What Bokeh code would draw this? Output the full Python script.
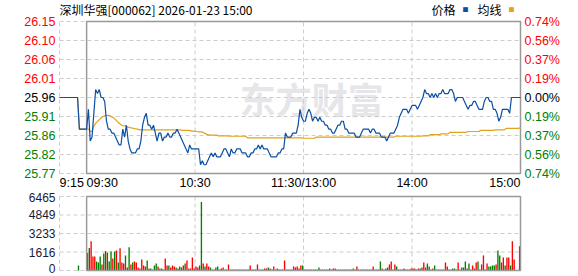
from bokeh.plotting import figure
from bokeh.models import ColumnDataSource, Range1d
from bokeh.layouts import column
from bokeh.embed import file_html
from bokeh.resources import INLINE
from bokeh.core.properties import value

# ---------------- data ----------------
title_text = "深圳华强[000062] 2026-01-23 15:00"
pre_close = 25.96
max_pct = 0.74

price_tick_labels = ["25.77", "25.82", "25.86", "25.91", "25.96", "26.01", "26.06", "26.10", "26.15"]
pct_tick_labels = ["0.74%", "0.56%", "0.37%", "0.19%", "0.00%", "0.19%", "0.37%", "0.56%", "0.74%"]
time_ticks = [-15, 0, 60, 120, 180, 240]
time_labels = ["9:15", "09:30", "10:30", "11:30/13:00", "14:00", "15:00"]
vgrid_ticks = [-15, 60, 120, 180]
vol_ticks = [0, 1616, 3233, 4849, 6465]
vol_tick_labels = ["0", "1616", "3233", "4849", "6465"]
legend_labels = ["价格", "均线"]

# pre-market auction 9:15 - 9:29 (minutes relative to 9:30)
pre_minutes = [-15, -14, -13, -12, -11, -10, -9, -8, -7, -6, -5, -4, -3, -2, -1]
pre_price = [25.96, 25.96, 25.96, 25.96, 25.96, 25.96, 25.96, 25.96, 25.96, 25.96, 25.96,
             25.88, 25.88, 25.88, 25.88]
pre_avg = [25.96, 25.96, 25.96, 25.96, 25.96, 25.96, 25.96, 25.96, 25.96, 25.96, 25.96,
           25.88, 25.88, 25.88, 25.88]
pre_vol = [0, 0, 0, 0, 0, 0, 0, 0, 0, 0, 0, 440, 0, 0, 0]
pre_dir = ["ddddddddddddddd"]

# 9:30 .. 15:00, one value per minute (241)
price = [
    25.88, 25.93, 25.85, 25.86, 25.92, 25.98, 25.97, 25.98, 25.96, 25.96,
    25.95, 25.90, 25.88, 25.88, 25.87, 25.87, 25.86, 25.85, 25.84, 25.84,
    25.88, 25.86, 25.89, 25.85, 25.83, 25.82, 25.82, 25.82, 25.83, 25.83,
    25.85, 25.89, 25.91, 25.92, 25.89, 25.89, 25.88, 25.89, 25.87, 25.85,
    25.87, 25.87, 25.85, 25.86, 25.86, 25.87, 25.86, 25.86, 25.87, 25.87,
    25.88, 25.87, 25.86, 25.85, 25.84, 25.83, 25.82, 25.84, 25.83, 25.83,
    25.83, 25.83, 25.83, 25.79, 25.80, 25.79, 25.79, 25.80, 25.81, 25.82,
    25.81, 25.82, 25.81, 25.81, 25.81, 25.82, 25.83, 25.83, 25.82, 25.81,
    25.83, 25.82, 25.82, 25.83, 25.83, 25.83, 25.82, 25.82, 25.82, 25.81,
    25.81, 25.82, 25.82, 25.83, 25.83, 25.84, 25.83, 25.84, 25.83, 25.83,
    25.83, 25.82, 25.81, 25.81, 25.81, 25.81, 25.82, 25.82, 25.83, 25.83,
    25.87, 25.86, 25.86, 25.86, 25.87, 25.87, 25.87, 25.89, 25.93, 25.91,
    25.90, 25.90, 25.92, 25.93, 25.92, 25.90, 25.91, 25.91, 25.90, 25.91,
    25.90, 25.90, 25.89, 25.89, 25.88, 25.88, 25.87, 25.87, 25.88, 25.89,
    25.89, 25.90, 25.90, 25.88, 25.88, 25.87, 25.87, 25.87, 25.87, 25.86,
    25.86, 25.86, 25.87, 25.88, 25.88, 25.88, 25.88, 25.87, 25.88, 25.88,
    25.87, 25.87, 25.87, 25.86, 25.86, 25.86, 25.85, 25.86, 25.87, 25.87,
    25.87, 25.88, 25.89, 25.91, 25.92, 25.93, 25.93, 25.93, 25.92, 25.93,
    25.94, 25.94, 25.94, 25.93, 25.94, 25.95, 25.96, 25.98, 25.97, 25.97,
    25.96, 25.97, 25.96, 25.97, 25.96, 25.97, 25.97, 25.98, 25.97, 25.97,
    25.97, 25.98, 25.98, 25.97, 25.95, 25.96, 25.96, 25.96, 25.96, 25.95,
    25.94, 25.93, 25.94, 25.94, 25.95, 25.95, 25.94, 25.93, 25.93, 25.93,
    25.95, 25.96, 25.96, 25.95, 25.95, 25.93, 25.93, 25.92, 25.90, 25.91,
    25.93, 25.93, 25.93, 25.93, 25.92, 25.96, 25.96, 25.96, 25.96, 25.96,
    25.96,
]

avg_price = [
    25.880, 25.880, 25.875, 25.874, 25.887, 25.895, 25.899, 25.904, 25.908, 25.912,
    25.914, 25.915, 25.915, 25.914, 25.911, 25.908, 25.904, 25.899, 25.895, 25.891,
    25.889, 25.888, 25.887, 25.885, 25.884, 25.883, 25.882, 25.881, 25.880, 25.879,
    25.878, 25.878, 25.878, 25.878, 25.878, 25.878, 25.878, 25.878, 25.878, 25.878,
    25.878, 25.878, 25.878, 25.878, 25.878, 25.878, 25.878, 25.878, 25.878, 25.878,
    25.878, 25.878, 25.878, 25.877, 25.877, 25.877, 25.877, 25.877, 25.875, 25.875,
    25.875, 25.874, 25.873, 25.873, 25.873, 25.870, 25.868, 25.866, 25.865, 25.865,
    25.865, 25.865, 25.865, 25.863, 25.863, 25.863, 25.863, 25.863, 25.863, 25.862,
    25.862, 25.862, 25.862, 25.862, 25.862, 25.862, 25.862, 25.862, 25.862, 25.858,
    25.858, 25.858, 25.858, 25.858, 25.858, 25.858, 25.858, 25.858, 25.858, 25.858,
    25.858, 25.858, 25.858, 25.858, 25.858, 25.858, 25.858, 25.858, 25.858, 25.858,
    25.858, 25.858, 25.858, 25.858, 25.858, 25.858, 25.858, 25.858, 25.858, 25.858,
    25.857, 25.857, 25.857, 25.857, 25.857, 25.857, 25.857, 25.860, 25.860, 25.860,
    25.860, 25.860, 25.860, 25.860, 25.860, 25.860, 25.860, 25.860, 25.860, 25.860,
    25.860, 25.860, 25.860, 25.860, 25.860, 25.860, 25.860, 25.860, 25.860, 25.860,
    25.860, 25.860, 25.860, 25.860, 25.860, 25.860, 25.860, 25.860, 25.860, 25.860,
    25.860, 25.860, 25.860, 25.860, 25.860, 25.860, 25.860, 25.860, 25.860, 25.860,
    25.860, 25.862, 25.862, 25.862, 25.862, 25.862, 25.862, 25.862, 25.862, 25.862,
    25.862, 25.862, 25.862, 25.862, 25.862, 25.862, 25.863, 25.863, 25.863, 25.863,
    25.866, 25.866, 25.866, 25.866, 25.866, 25.866, 25.868, 25.868, 25.868, 25.868,
    25.868, 25.872, 25.872, 25.872, 25.872, 25.872, 25.872, 25.872, 25.872, 25.872,
    25.872, 25.874, 25.874, 25.874, 25.874, 25.874, 25.874, 25.874, 25.877, 25.877,
    25.877, 25.877, 25.877, 25.877, 25.877, 25.877, 25.878, 25.878, 25.878, 25.878,
    25.878, 25.878, 25.882, 25.882, 25.882, 25.882, 25.882, 25.882, 25.882, 25.882,
    25.884,
]

volume = [
    0, 1524, 1963, 2549, 1230, 1230, 791, 703, 1230, 527,
    1494, 1700, 1582, 791, 1670, 1055, 1670, 1758, 703, 1934,
    703, 615, 1318, 264, 2022, 527, 703, 791, 703, 264,
    176, 967, 440, 352, 879, 176, 176, 88, 440, 615,
    352, 176, 176, 88, 1055, 440, 440, 264, 440, 352,
    264, 176, 352, 264, 440, 615, 879, 176, 176, 1143,
    176, 352, 264, 440, 5977, 615, 352, 615, 352, 264,
    88, 88, 264, 352, 88, 176, 264, 88, 88, 527,
    88, 88, 88, 88, 88, 88, 88, 88, 88, 88,
    88, 440, 88, 88, 88, 527, 88, 88, 88, 176,
    176, 264, 176, 88, 352, 88, 176, 88, 88, 88,
    879, 88, 88, 88, 88, 352, 264, 352, 176, 440,
    440, 88, 88, 88, 88, 88, 88, 88, 88, 264,
    88, 88, 88, 88, 88, 176, 88, 176, 176, 88,
    88, 88, 88, 88, 88, 88, 88, 88, 176, 88,
    352, 88, 88, 88, 88, 88, 88, 88, 88, 352,
    88, 88, 88, 791, 176, 88, 176, 264, 527, 791,
    88, 527, 352, 88, 88, 88, 176, 88, 88, 88,
    176, 176, 176, 88, 176, 176, 264, 703, 264, 615,
    352, 88, 176, 440, 88, 88, 88, 88, 88, 703,
    352, 88, 88, 176, 176, 88, 703, 88, 264, 264,
    791, 176, 615, 88, 440, 176, 703, 791, 88, 527,
    1318, 88, 615, 352, 352, 440, 440, 527, 1758, 1318,
    703, 1143, 440, 1143, 1143, 440, 2549, 967, 0, 0,
    2110,
]

# trade direction per minute: u = up (red bar), d = down (green bar)
vol_dir = [
    "uuduuudddu", "dduddududu", "uudududuuu", "uuuudududd", "uddduuduuu",
    "dudduduuuu", "uuudduduud", "uudduuuuuu", "duudduduud", "uuduuuuduu",
    "ududuuudud", "uuuduuuuuu", "duududuuud", "udduudduuu", "dduududddd",
    "uuuuduuuuu", "uddduudduu", "uuduuuuudu", "uuuuuduuud", "duududuudu",
    "ududduuudd", "duduuuuduu", "uuuddddudd", "uuduuduuuu", "u",
]

# ---------------- styles / geometry ----------------
RED = "#ff0000"
GREEN = "#008000"
BLACK = "#000000"
BLUE = "#0a4fa3"
ORANGE = "#e0a21f"
GRID = "#cccccc"
FRAME = "#999999"
NUM_FONT = value("Liberation Sans")
CJK_FONT = value("Noto Sans CJK SC")
W = 578
PAD_L, PAD_R = 59, 58          # px outside the plotted time span
P1_H, P1_TOP, P1_BOT = 190, 21, 17
P2_H, P2_TOP, P2_BOT = 86, 6, 6

minutes = pre_minutes + list(range(len(price)))
all_price = pre_price + price
all_avg = pre_avg + avg_price
all_vol = pre_vol + volume
all_dir = "".join(pre_dir + vol_dir)
t0, t1 = time_ticks[0], time_ticks[-1]
span = pre_close * max_pct / 100.0
y_lo, y_hi = pre_close - span, pre_close + span
price_ticks = [pre_close + span * k / 4.0 for k in range(-4, 5)]
v_hi = vol_ticks[-1]

# ranges extended so that the time span 9:15-15:00 sits between the margins
ppm = (W - PAD_L - PAD_R) / (t1 - t0)
x_range = Range1d(t0 - PAD_L / ppm, t1 + PAD_R / ppm)
ppy = (P1_H - P1_TOP - P1_BOT) / (y_hi - y_lo)
y1_range = Range1d(y_lo - P1_BOT / ppy, y_hi + P1_TOP / ppy)
ppv = (P2_H - P2_TOP - P2_BOT) / v_hi
y2_range = Range1d(0 - P2_BOT / ppv, v_hi + P2_TOP / ppv)


def level_color(v):
    if abs(v - pre_close) < 1e-9:
        return BLACK
    return RED if v > pre_close else GREEN


tick_colors = [level_color(v) for v in price_ticks]


def bare(fig):
    fig.axis.visible = False
    fig.grid.visible = False
    fig.outline_line_color = None
    fig.min_border = 0
    fig.background_fill_color = "white"
    fig.border_fill_color = "white"


# ---------------- price panel ----------------
p1 = figure(width=W, height=P1_H, output_backend="svg", toolbar_location=None,
            x_range=x_range, y_range=y1_range)
bare(p1)

p1.text(x=[124.5], y=[pre_close], text=["东方财富"], text_font=CJK_FONT, text_font_size="36px",
        text_font_style="bold", text_color="#e6e6ea", text_align="center", text_baseline="middle")

p1.segment(x0=[t0] * len(price_ticks), x1=[t1] * len(price_ticks), y0=price_ticks, y1=price_ticks,
           line_color=GRID, line_dash="4 3", line_width=1)
p1.segment(x0=vgrid_ticks, x1=vgrid_ticks, y0=[y_lo] * len(vgrid_ticks), y1=[y_hi] * len(vgrid_ticks),
           line_color=GRID, line_dash="4 3", line_width=1)
p1.quad(left=[0], right=[t1], bottom=[y_lo], top=[y_hi], fill_color=None,
        line_color=FRAME, line_width=1.5)
p1.line(minutes, all_avg, line_color=ORANGE, line_width=1.2)
p1.line(minutes, all_price, line_color=BLUE, line_width=1.2)

p1.text(x=[t0] * 9, y=price_ticks, text=price_tick_labels, text_color=tick_colors,
        text_font=NUM_FONT, text_font_size="12.5px", text_align="right",
        text_baseline="middle", x_offset=-4)
p1.text(x=[t1] * 9, y=price_ticks, text=pct_tick_labels, text_color=tick_colors,
        text_font=NUM_FONT, text_font_size="12.5px", text_align="left",
        text_baseline="middle", x_offset=4)
time_align = ["left", "left", "center", "center", "center", "right"]
p1.text(x=time_ticks, y=[y_lo] * len(time_ticks), text=time_labels, text_align=time_align,
        text_color=BLACK, text_font=NUM_FONT, text_font_size="12.5px",
        text_baseline="middle", y_offset=9)

p1.text(x=[t0], y=[y_hi], text=[title_text], text_font=CJK_FONT, text_font_size="12px",
        text_color=BLACK, text_baseline="middle", text_align="left", y_offset=-12)
p1.text(x=[t1, t1], y=[y_hi, y_hi], text=legend_labels, text_font=CJK_FONT,
        text_font_size="12px", text_color=BLACK, text_baseline="middle", text_align="left",
        x_offset=[-89, -43], y_offset=-12)
p1.text(x=[t1, t1], y=[y_hi, y_hi], text=["■", "■"], text_font=CJK_FONT,
        text_font_size="6px", text_color=[BLUE, ORANGE], text_baseline="middle",
        text_align="left", x_offset=[-58, -12], y_offset=-12)

# ---------------- volume panel ----------------
p2 = figure(width=W, height=P2_H, output_backend="svg", toolbar_location=None,
            x_range=p1.x_range, y_range=y2_range)
bare(p2)
p2.segment(x0=[t0] * len(vol_ticks), x1=[t1] * len(vol_ticks), y0=vol_ticks, y1=vol_ticks,
           line_color=GRID, line_dash="4 3", line_width=1)
p2.segment(x0=vgrid_ticks, x1=vgrid_ticks, y0=[0] * len(vgrid_ticks), y1=[v_hi] * len(vgrid_ticks),
           line_color=GRID, line_dash="4 3", line_width=1)
bar_src = ColumnDataSource(dict(
    x=[m - 0.5 for m in minutes],
    v=all_vol,
    c=[RED if d == "u" else GREEN for d in all_dir],
))
p2.vbar(x="x", top="v", bottom=0, width=0.75, source=bar_src, fill_color="c", line_color=None)
p2.quad(left=[0], right=[t1], bottom=[0], top=[v_hi], fill_color=None,
        line_color=FRAME, line_width=1.5)
vol_label_shift = [-2, 0, 0, 0, 1]
p2.text(x=[t0] * len(vol_ticks), y=vol_ticks, text=vol_tick_labels, text_color="#1a1a33",
        text_font=NUM_FONT, text_font_size="12px", text_align="right",
        text_baseline="middle", x_offset=-4, y_offset=vol_label_shift)

layout = column(p1, p2, spacing=0)
open("out.html", "w").write(file_html(layout, INLINE))
